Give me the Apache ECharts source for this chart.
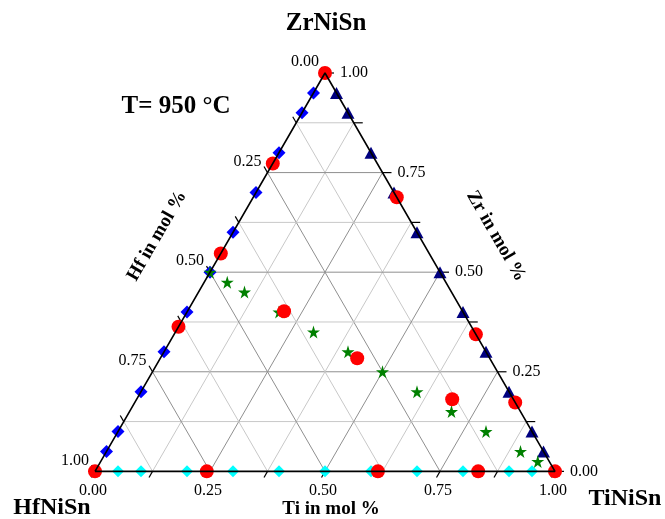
<!DOCTYPE html>
<html>
<head>
<meta charset="utf-8">
<script src="https://cdn.jsdelivr.net/npm/echarts@6/dist/echarts.min.js"></script>
<style>
  html, body { margin: 0; padding: 0; background: #fff; }
  #chart { width: 665px; height: 519px; }
</style>
</head>
<body>
<div id="chart"></div>
<script>
// compositions are [Hf, Ti, Zr] mole fractions
const redPoints = [
  [0, 0, 1], [0.227, 0, 0.773], [0.453, 0, 0.547], [0.637, 0, 0.363], [1, 0, 0],
  [0.757, 0.243, 0], [0.385, 0.615, 0], [0.167, 0.833, 0], [0, 1, 0],
  [0, 0.312, 0.688], [0, 0.656, 0.344], [0, 0.827, 0.173],
  [0.388, 0.210, 0.402], [0.288, 0.428, 0.284], [0.133, 0.686, 0.181]
]
const hfZrPoints = [
  [0.05, 0, 0.95], [0.1, 0, 0.9], [0.2, 0, 0.8], [0.3, 0, 0.7], [0.4, 0, 0.6], [0.5, 0, 0.5],
  [0.6, 0, 0.4], [0.7, 0, 0.3], [0.8, 0, 0.2], [0.9, 0, 0.1], [0.95, 0, 0.05]
]
const tiZrPoints = [
  [0, 0.05, 0.95], [0, 0.1, 0.9], [0, 0.2, 0.8], [0, 0.3, 0.7], [0, 0.4, 0.6], [0, 0.5, 0.5],
  [0, 0.6, 0.4], [0, 0.7, 0.3], [0, 0.8, 0.2], [0, 0.9, 0.1], [0, 0.95, 0.05]
]
const hfTiPoints = [
  [0.95, 0.05, 0], [0.9, 0.1, 0], [0.8, 0.2, 0], [0.7, 0.3, 0], [0.6, 0.4, 0], [0.5, 0.5, 0],
  [0.4, 0.6, 0], [0.3, 0.7, 0], [0.2, 0.8, 0], [0.1, 0.9, 0], [0.05, 0.95, 0]
]
const starPoints = [
  [0.5, 0, 0.5], [0.475, 0.05, 0.475], [0.45, 0.1, 0.45], [0.4, 0.2, 0.4], [0.35, 0.3, 0.35],
  [0.3, 0.4, 0.3], [0.25, 0.5, 0.25], [0.2, 0.6, 0.2], [0.15, 0.7, 0.15], [0.1, 0.8, 0.1],
  [0.05, 0.9, 0.05], [0.025, 0.95, 0.025]
]
const tickVals = [0, 0.125, 0.25, 0.375, 0.5, 0.625, 0.75, 0.875, 1]
const majorVals = [0, 0.25, 0.5, 0.75, 1]
const tickLabels = ['0.00', '0.25', '0.50', '0.75', '1.00']

const S3 = Math.sqrt(3) / 2
const toXY = (c) => [c[1] + c[2] / 2, c[2] * S3]

// grid lines inside the triangle
const gridLines = []
tickVals.slice(1, -1).forEach((v) => {
  const major = majorVals.includes(v) ? 1 : 0
  let a = toXY([1 - v, 0, v]), b = toXY([0, 1 - v, v])   // Zr = v
  gridLines.push([a[0], a[1], b[0], b[1], major])
  a = toXY([1 - v, v, 0]); b = toXY([0, v, 1 - v])       // Ti = v
  gridLines.push([a[0], a[1], b[0], b[1], major])
  a = toXY([v, 1 - v, 0]); b = toXY([v, 0, 1 - v])       // Hf = v
  gridLines.push([a[0], a[1], b[0], b[1], major])
})

// ticks + labels on the three edges
const tickItems = []
tickVals.forEach((v) => {
  const li = majorVals.indexOf(v)
  const label = li >= 0 ? tickLabels[li] : ''
  tickItems.push({ p: toXY([v, 0, 1 - v]), dir: [-0.5, -S3], label, side: 'left' })
  tickItems.push({ p: toXY([1 - v, v, 0]), dir: [-0.5, S3], label, side: 'bottom' })
  tickItems.push({ p: toXY([0, 1 - v, v]), dir: [1, 0], label, side: 'right' })
})

const starPath = 'path://M50,0 L61,35 L98,35 L68,57 L79,91 L50,70 L21,91 L32,57 L2,35 L39,35 Z'
const serif = '"Liberation Serif", "Times New Roman", serif'

const chart = echarts.init(document.getElementById('chart'))

const markerSeries = (data, symbol, size, color) => ({
  type: 'scatter',
  data: data.map(toXY),
  symbol,
  symbolSize: size,
  itemStyle: { color, opacity: 1 },
  clip: false,
  silent: true
})

chart.setOption({
  animation: false,
  grid: { left: 95, top: 73, width: 460, height: 460 * S3 },
  xAxis: { type: 'value', min: 0, max: 1, show: false },
  yAxis: { type: 'value', min: 0, max: S3, show: false },
  graphic: [
    { type: 'text', x: 326, y: 24, style: { text: 'ZrNiSn', font: 'bold 25px ' + serif, align: 'center', verticalAlign: 'middle', fill: '#000' } },
    { type: 'text', x: 176, y: 107, style: { text: 'T= 950 °C', font: 'bold 25px ' + serif, align: 'center', verticalAlign: 'middle', fill: '#000' } },
    { type: 'text', x: 52, y: 508, style: { text: 'HfNiSn', font: 'bold 24px ' + serif, align: 'center', verticalAlign: 'middle', fill: '#000' } },
    { type: 'text', x: 625, y: 499, style: { text: 'TiNiSn', font: 'bold 24px ' + serif, align: 'center', verticalAlign: 'middle', fill: '#000' } },
    { type: 'text', x: 331, y: 509, style: { text: 'Ti in mol %', font: 'bold 19px ' + serif, align: 'center', verticalAlign: 'middle', fill: '#000' } },
    { type: 'text', x: 157, y: 236, rotation: Math.PI / 3, style: { text: 'Hf in mol %', font: 'bold 19px ' + serif, align: 'center', verticalAlign: 'middle', fill: '#000' } },
    { type: 'text', x: 496, y: 236, rotation: -Math.PI / 3, style: { text: 'Zr in mol %', font: 'bold 19px ' + serif, align: 'center', verticalAlign: 'middle', fill: '#000' } }
  ],
  series: [
    {
      type: 'custom',
      data: gridLines,
      encode: { x: [0, 2], y: [1, 3] },
      silent: true,
      renderItem: (params, api) => {
        const a = api.coord([api.value(0), api.value(1)])
        const b = api.coord([api.value(2), api.value(3)])
        return {
          type: 'line',
          shape: { x1: a[0], y1: a[1], x2: b[0], y2: b[1] },
          style: { stroke: api.value(4) ? '#8f8f8f' : '#c8c8c8', lineWidth: 1 }
        }
      }
    },
    {
      type: 'line',
      data: [[0, 0], [1, 0], [0.5, S3], [0, 0]],
      symbol: 'none',
      lineStyle: { color: '#000', width: 1.6 },
      clip: false,
      silent: true
    },
    {
      type: 'custom',
      data: tickItems.map((t) => t.p),
      encode: { x: 0, y: 1 },
      silent: true,
      renderItem: (params, api) => {
        const it = tickItems[params.dataIndex]
        const c = api.coord(it.p)
        const len = it.side === 'right' ? 9 : 7
        const children = [{
          type: 'line',
          shape: { x1: c[0], y1: c[1], x2: c[0] + it.dir[0] * len, y2: c[1] + it.dir[1] * len },
          style: { stroke: '#000', lineWidth: 1.2 }
        }]
        if (it.label) {
          let x = c[0], y = c[1], align = 'center'
          if (it.side === 'left') { x -= 6; y -= 11; align = 'right' }
          if (it.side === 'bottom') { x -= 2; y += 19 }
          if (it.side === 'right') { x += 15; align = 'left' }
          children.push({
            type: 'text',
            x, y,
            style: { text: it.label, font: '16px ' + serif, align, verticalAlign: 'middle', fill: '#000' }
          })
        }
        return { type: 'group', children }
      }
    },
    markerSeries(hfZrPoints, 'diamond', 13, '#0000ff'),
    markerSeries(tiZrPoints, 'triangle', [13, 12], '#000080'),
    markerSeries(hfTiPoints, 'diamond', 12, '#00ffff'),
    markerSeries(starPoints, starPath, 13, '#008000'),
    markerSeries(redPoints, 'circle', 14, '#ff0000')
  ]
})
</script>
</body>
</html>
